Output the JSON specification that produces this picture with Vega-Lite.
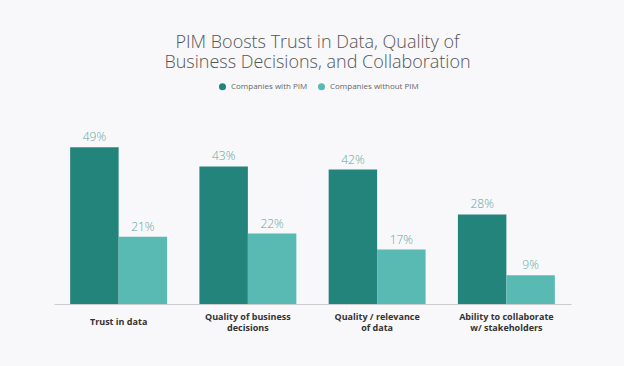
{
  "$schema": "https://vega.github.io/schema/vega-lite/v6.json",
  "autosize": "none",
  "width": 517,
  "height": 160,
  "padding": {"left": 54, "top": 144, "right": 53, "bottom": 62},
  "background": "#f8f8fa",
  "config": {"view": {"stroke": null}},
  "title": {
    "text": ["PIM Boosts Trust in Data, Quality of", "Business Decisions, and Collaboration"],
    "font": "Open Sans",
    "fontWeight": 300,
    "fontSize": 18,
    "lineHeight": 20,
    "color": "#555555",
    "anchor": "middle",
    "offset": 10,
    "dx": 5
  },
  "data": {
    "values": [
      {"category": "Trust in data", "group": "Companies with PIM", "value": 0.49},
      {"category": "Trust in data", "group": "Companies without PIM", "value": 0.21},
      {"category": "Quality of business decisions", "group": "Companies with PIM", "value": 0.43},
      {"category": "Quality of business decisions", "group": "Companies without PIM", "value": 0.22},
      {"category": "Quality / relevance of data", "group": "Companies with PIM", "value": 0.42},
      {"category": "Quality / relevance of data", "group": "Companies without PIM", "value": 0.17},
      {"category": "Ability to collaborate w/ stakeholders", "group": "Companies with PIM", "value": 0.28},
      {"category": "Ability to collaborate w/ stakeholders", "group": "Companies without PIM", "value": 0.09}
    ]
  },
  "encoding": {
    "x": {
      "field": "category",
      "type": "nominal",
      "sort": null,
      "scale": {"paddingInner": 0.25, "paddingOuter": 0.125},
      "axis": {
        "title": null,
        "ticks": false,
        "domainColor": "#cccccc",
        "labelAngle": 0,
        "labelFont": "Open Sans",
        "labelFontWeight": "bold",
        "labelFontSize": 9,
        "labelColor": "#333333",
        "labelPadding": {"condition": {"test": "datum.value == 'Trust in data'", "value": 17}, "value": 12},
        "labelBaseline": "middle",
        "labelLineHeight": 11,
        "labelLimit": 300,
        "labelExpr": "datum.label == 'Quality of business decisions' ? ['Quality of business', 'decisions'] : datum.label == 'Quality / relevance of data' ? ['Quality / relevance', 'of data'] : datum.label == 'Ability to collaborate w/ stakeholders' ? ['Ability to collaborate', 'w/ stakeholders'] : datum.label"
      }
    },
    "xOffset": {"field": "group", "type": "nominal", "sort": ["Companies with PIM", "Companies without PIM"], "scale": {"paddingInner": 0, "paddingOuter": 0}},
    "y": {"field": "value", "type": "quantitative", "scale": {"domain": [0, 0.5]}, "axis": null}
  },
  "layer": [
    {
      "mark": {"type": "bar"},
      "encoding": {
        "color": {
          "field": "group",
          "type": "nominal",
          "scale": {"domain": ["Companies with PIM", "Companies without PIM"], "range": ["#23847c", "#58bab3"]},
          "legend": {
            "orient": "none",
            "direction": "horizontal",
            "legendX": 164,
            "legendY": -62,
            "title": null,
            "symbolType": "circle",
            "symbolSize": 50,
            "symbolOpacity": 1,
            "labelFont": "Open Sans",
            "labelFontSize": 8,
            "labelColor": "#666666",
            "columnPadding": 9
          }
        }
      }
    },
    {
      "mark": {"type": "text", "dy": -10, "font": "Open Sans", "fontSize": 12, "fontWeight": 300, "color": "#5fa6a0"},
      "encoding": {"text": {"field": "value", "type": "quantitative", "format": ".0%"}}
    }
  ]
}
